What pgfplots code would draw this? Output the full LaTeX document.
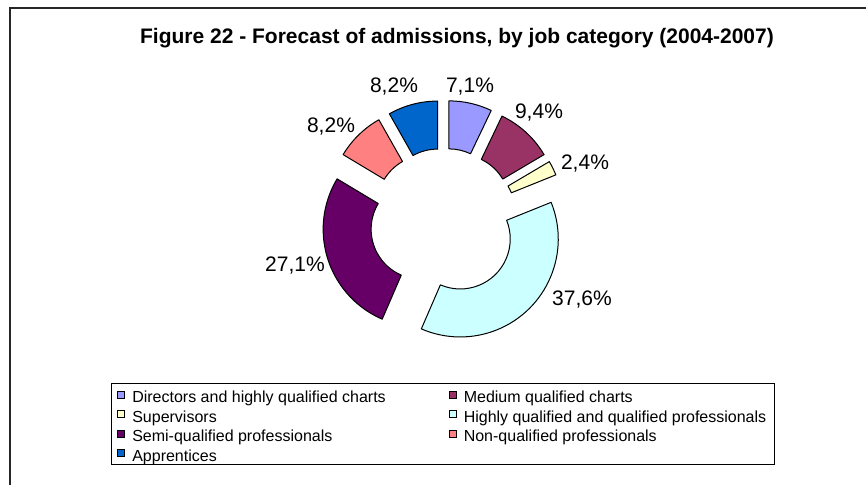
\documentclass[border=0pt]{standalone}
\usepackage{pgfplots}
\pgfplotsset{compat=1.18}
\usepackage{pgfplotstable}
\usepackage{fontspec}
\setmainfont{Liberation Sans}

% Excel default doughnut palette
\definecolor{c0}{HTML}{9999FF}
\definecolor{c1}{HTML}{993366}
\definecolor{c2}{HTML}{FFFFCC}
\definecolor{c3}{HTML}{CCFFFF}
\definecolor{c4}{HTML}{660066}
\definecolor{c5}{HTML}{FF8080}
\definecolor{c6}{HTML}{0066CC}

% share of admissions (%), label position relative to the centre (px)
\pgfplotstableread{
pct  lx      ly
7.1   26.3   129
9.4   95.3   103
2.4  141.3    52
37.6 138.3   -83
27.1 -148.7  -50
8.2  -112.7   89
8.2  -49.7   129
}\admissions

\newcommand{\legstrut}{\rule[-6pt]{0pt}{23.9pt}}

\begin{document}
\begin{tikzpicture}
\useasboundingbox (0pt,0pt) rectangle (866pt,484pt);
\clip (0pt,0pt) rectangle (866pt,484pt);
\draw[line width=2pt, black!85] (10pt,-5pt) -- (10pt,476pt) -- (900pt,476pt);
\node[anchor=base, font=\fontsize{21}{25}\selectfont\bfseries] at (457pt,440.7pt)
  {Figure 22 - Forecast of admissions, by job category (2004-2007)};

\begin{axis}[
  at={(443.7pt,262pt)}, anchor=origin,
  x=1pt, y=1pt, xmin=-1, xmax=1, ymin=-1, ymax=1,
  disabledatascaling, axis lines=none, clip=false,
  legend columns=2,
  legend cell align=left,
  legend image code/.code={\draw[#1, draw=black, line width=0.8pt] (0pt,-3.5pt) rectangle (7pt,3.5pt);},
  legend style={at={(axis cs:-332.7,-161)}, anchor=north west,
    draw=black, line width=1pt, inner xsep=6pt, inner ysep=1.5pt,
    font=\fontsize{16}{19}\selectfont,
    nodes={inner sep=0pt},
    /tikz/every odd column/.append style={column sep=7pt},
    /tikz/every even column/.append style={column sep=6.7pt}},
]
\def\cum{0}
\pgfplotsforeachungrouped \i in {0,...,6}{%
  \pgfplotstablegetelem{\i}{pct}\of\admissions \let\pv\pgfplotsretval
  \pgfplotstablegetelem{\i}{lx}\of\admissions \let\labx\pgfplotsretval
  \pgfplotstablegetelem{\i}{ly}\of\admissions \let\laby\pgfplotsretval
  \pgfmathsetmacro\angA{90-3.6*\cum}
  \pgfmathsetmacro\cum{\cum+\pv}
  \pgfmathsetmacro\angB{90-3.6*\cum}
  \pgfmathsetmacro\angM{(\angA+\angB)/2}
  \pgfmathsetmacro\sx{23.7*cos(\angM)}
  \pgfmathsetmacro\sy{23.7*sin(\angM)}
  \pgfmathsetmacro\xout{\sx+98*cos(\angA)}
  \pgfmathsetmacro\yout{\sy+98*sin(\angA)}
  \pgfmathsetmacro\xin{\sx+50*cos(\angB)}
  \pgfmathsetmacro\yin{\sy+50*sin(\angB)}
  \edef\slicecmd{%
    \noexpand\filldraw[fill=c\i, draw=black, line width=1pt, line join=round]
      (axis cs:\xout,\yout) arc[start angle=\angA, end angle=\angB, radius=98pt]
      -- (axis cs:\xin,\yin) arc[start angle=\angB, end angle=\angA, radius=50pt] -- cycle;
    \noexpand\node[anchor=base, font=\noexpand\fontsize{21}{25}\noexpand\selectfont]
      at (axis cs:\labx,\laby)
      {\noexpand\pgfmathprintnumber[fixed, fixed zerofill, precision=1, use comma, assume math mode=true]{\pv}\noexpand\%};
  }%
  \slicecmd
}

\addlegendimage{fill=c0}\addlegendentry{\makebox[310pt][l]{\legstrut Directors and highly qualified charts}}
\addlegendimage{fill=c1}\addlegendentry{\makebox[305pt][l]{\legstrut Medium qualified charts}}
\addlegendimage{fill=c2}\addlegendentry{\makebox[310pt][l]{\legstrut Supervisors}}
\addlegendimage{fill=c3}\addlegendentry{\makebox[305pt][l]{\legstrut Highly qualified and qualified professionals}}
\addlegendimage{fill=c4}\addlegendentry{\makebox[310pt][l]{\legstrut Semi-qualified professionals}}
\addlegendimage{fill=c5}\addlegendentry{\makebox[305pt][l]{\legstrut Non-qualified professionals}}
\addlegendimage{fill=c6}\addlegendentry{\makebox[310pt][l]{\legstrut Apprentices}}
\end{axis}
\end{tikzpicture}
\end{document}
